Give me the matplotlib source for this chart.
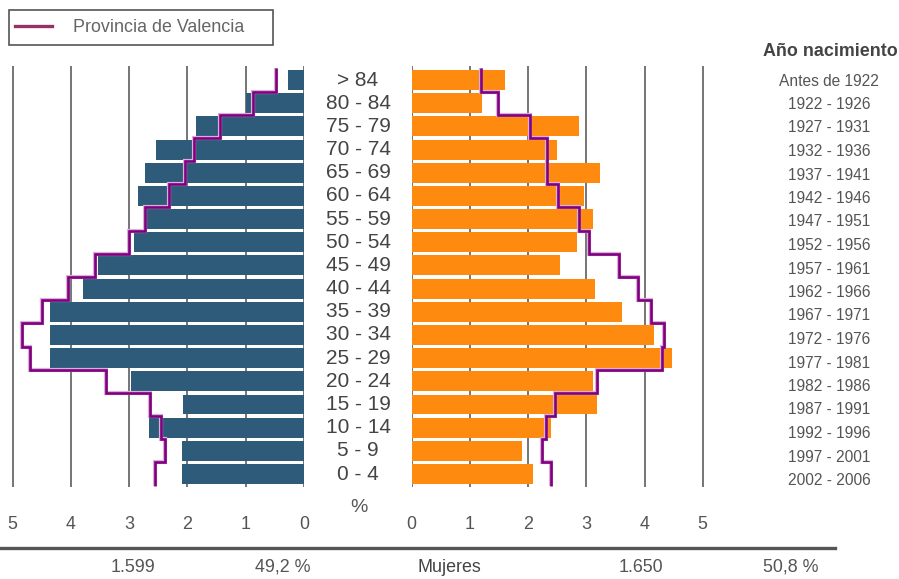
import numpy as np
import matplotlib
matplotlib.use("Agg")
import matplotlib.pyplot as plt
import matplotlib.patheffects as pe
import matplotlib.transforms as mtransforms
from matplotlib import font_manager

# ---------------- data ----------------
age_groups = ["> 84", "80 - 84", "75 - 79", "70 - 74", "65 - 69", "60 - 64", "55 - 59",
              "50 - 54", "45 - 49", "40 - 44", "35 - 39", "30 - 34", "25 - 29",
              "20 - 24", "15 - 19", "10 - 14", "5 - 9", "0 - 4"]
birth_years = ["Antes de 1922", "1922 - 1926", "1927 - 1931", "1932 - 1936", "1937 - 1941",
               "1942 - 1946", "1947 - 1951", "1952 - 1956", "1957 - 1961", "1962 - 1966",
               "1967 - 1971", "1972 - 1976", "1977 - 1981", "1982 - 1986", "1987 - 1991",
               "1992 - 1996", "1997 - 2001", "2002 - 2006"]
men_pct = [0.27, 1.00, 1.85, 2.54, 2.73, 2.85, 2.70, 2.92, 3.54, 3.79, 4.36, 4.36, 4.36,
           2.97, 2.08, 2.66, 2.09, 2.09]
women_pct = [1.60, 1.21, 2.87, 2.50, 3.24, 2.96, 3.12, 2.84, 2.55, 3.15, 3.61, 4.16, 4.47,
             3.12, 3.18, 2.39, 1.90, 2.08]
prov_men = [0.48, 0.87, 1.44, 1.89, 2.04, 2.32, 2.73, 3.00, 3.58, 4.05, 4.49, 4.84, 4.71,
            3.40, 2.65, 2.45, 2.38, 2.56]
prov_women = [1.19, 1.49, 2.04, 2.32, 2.32, 2.51, 2.87, 3.05, 3.56, 3.88, 4.11, 4.34, 4.30,
              3.19, 2.47, 2.30, 2.24, 2.40]
x_ticks = [0, 1, 2, 3, 4, 5]
legend_label = "Provincia de Valencia"
bottom_texts = ["1.599", "49,2 %", "Mujeres", "1.650", "50,8 %"]

# ---------------- fonts ----------------
names = {f.name for f in font_manager.fontManager.ttflist}
NARROW = "Liberation Sans Narrow" if "Liberation Sans Narrow" in names else "Liberation Sans"
narrow_scale = 1.0 if NARROW == "Liberation Sans Narrow" else 0.86
REG = "Liberation Sans"
plt.rcParams['font.family'] = [REG, 'DejaVu Sans']

W, H = 899, 579
fig = plt.figure(figsize=(W / 100, H / 100), dpi=100)

def fx(px):
    return px / W

def fy(py):
    return 1 - py / H

top_px, bot_px = 66, 487
row0, pitch = 80, 23.18
ylim = ((bot_px - row0) / pitch, (top_px - row0) / pitch)

ax_l = fig.add_axes([fx(0), fy(bot_px), fx(304), (bot_px - top_px) / H])
ax_r = fig.add_axes([fx(411.7), fy(bot_px), fx(720 - 411.7), (bot_px - top_px) / H])

ypos = np.arange(len(age_groups))
edges = np.arange(len(age_groups) + 1) - 0.5

MEN = "#2f5b7b"
WOMEN = "#ff8a10"
PURPLE = "#800080"
GRID = "#6a6a6a"

ax_l.barh(ypos, men_pct, height=0.86, color=MEN, zorder=2)
ax_r.barh(ypos, women_pct, height=0.86, color=WOMEN, zorder=2)

halo = [pe.Stroke(linewidth=3.0, foreground="#d8b0d8"), pe.Normal()]
ax_l.stairs(prov_men, edges, orientation="horizontal", baseline=None,
            color=PURPLE, lw=1.9, zorder=3, path_effects=halo)
ax_r.stairs(prov_women, edges, orientation="horizontal", baseline=None,
            color=PURPLE, lw=1.9, zorder=3, path_effects=halo)

ax_l.set_xlim(304 / 58.26, 0)
ax_r.set_xlim(0, (720 - 411.7) / 58.2)
for ax in (ax_l, ax_r):
    ax.set_ylim(*ylim)
    ax.set_xticks(x_ticks)
    ax.set_xticklabels([str(t) for t in x_ticks])
    ax.set_yticks([])
    ax.grid(axis="x", color=GRID, lw=1.3, zorder=0)
    ax.set_axisbelow(True)
    for s in ax.spines.values():
        s.set_visible(False)
    ax.tick_params(axis="x", length=0, pad=21, labelsize=15 * narrow_scale,
                   labelcolor="#555555")
    for lab in ax.get_xticklabels():
        lab.set_fontfamily([NARROW, "DejaVu Sans"])
    ax.patch.set_alpha(0)

# centre age labels
tr = mtransforms.blended_transform_factory(fig.transFigure, ax_r.transData)
for i, lab in enumerate(age_groups):
    fig.text(fx(358), i, lab, transform=tr, ha="center", va="center",
             fontsize=15, color="#444444", family=[REG, "DejaVu Sans"])

fig.text(fx(359), fy(508), "%", ha="center", va="center", fontsize=14,
         color="#555555", family=[REG, "DejaVu Sans"])

# birth-year column
fig.text(fx(830), fy(52), "Año nacimiento", ha="center", va="center",
         fontsize=15 * narrow_scale, fontweight="bold", color="#444444",
         family=[NARROW, "DejaVu Sans"])
for i, lab in enumerate(birth_years):
    fig.text(fx(829), fy(81 + 23.5 * i), lab, ha="center", va="center",
             fontsize=13 * narrow_scale, color="#555555",
             family=[NARROW, "DejaVu Sans"])

# legend box (manual)
fig.patches.append(plt.Rectangle((fx(9), fy(45)), fx(273 - 9), (45 - 10) / H,
                                 transform=fig.transFigure, fill=False,
                                 edgecolor="#555555", lw=1.2))
fig.add_artist(plt.Line2D([fx(15), fx(52)], [fy(26), fy(26)], transform=fig.transFigure,
                          color="#953265", lw=2.4))
fig.text(fx(73), fy(27), legend_label, ha="left", va="center",
         fontsize=15 * narrow_scale, color="#666666", family=[NARROW, "DejaVu Sans"])

# bottom rule and totals
fig.add_artist(plt.Line2D([0, fx(835)], [fy(548), fy(548)], transform=fig.transFigure,
                          color="#555555", lw=2.4))
bottom_x = [133, 283, 449, 641, 791]
for x, t in zip(bottom_x, bottom_texts):
    fig.text(fx(x), fy(567), t, ha="center", va="center",
             fontsize=15 * narrow_scale, color="#555555" if t != "Mujeres" else "#444444",
             family=[NARROW, "DejaVu Sans"])

fig.savefig("out.png", dpi=100)
